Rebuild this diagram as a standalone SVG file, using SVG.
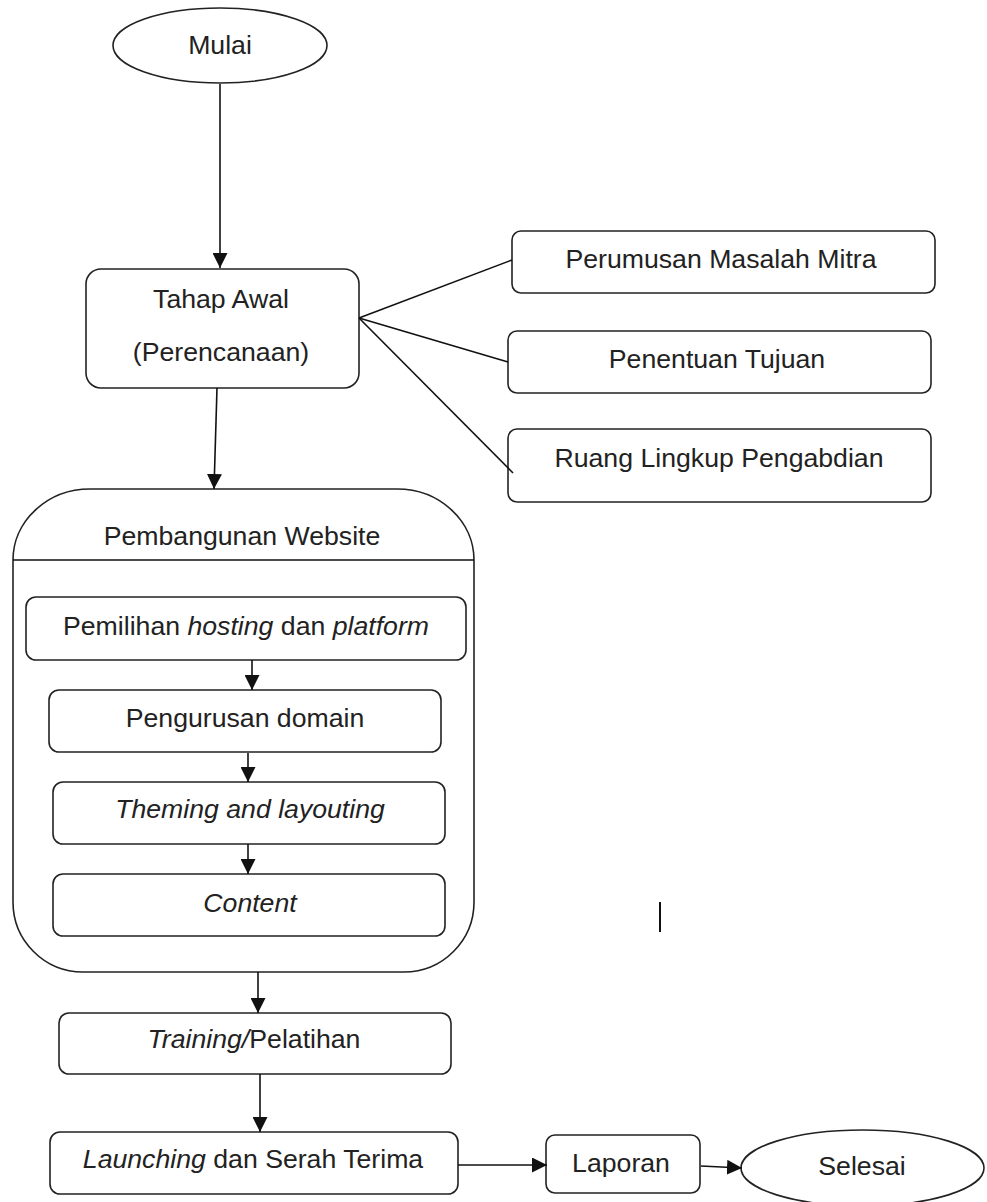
<svg xmlns="http://www.w3.org/2000/svg" width="987" height="1202" viewBox="0 0 987 1202">
<style>
.shape{fill:#fff;stroke:#222;stroke-width:1.6}
.conn{fill:none;stroke:#111;stroke-width:1.6}
.arrow{marker-end:url(#ah)}
text{font-family:"Liberation Sans",Arial,sans-serif;font-size:26.67px;fill:#222;text-anchor:middle}
.it{font-style:italic}
</style>
<defs>
<marker id="ah" markerUnits="userSpaceOnUse" markerWidth="15" markerHeight="15" refX="15" refY="7.5" orient="auto">
<path d="M0,0 L15,7.5 L0,15 z" fill="#111"/>
</marker>
</defs>
<rect width="987" height="1202" fill="#fff"/>
<g id="mulai">
<ellipse class="shape" cx="220" cy="45.5" rx="107" ry="37.5"/>
<text x="220" y="54">Mulai</text>
</g>
<g id="tahap-awal">
<rect class="shape" x="86" y="269" width="273" height="119" rx="15"/>
<text x="221" y="308">Tahap Awal</text>
<text x="221" y="361">(Perencanaan)</text>
</g>
<g id="perumusan">
<rect class="shape" x="512" y="231" width="423" height="62" rx="9"/>
<text x="721" y="268">Perumusan Masalah Mitra</text>
</g>
<g id="penentuan">
<rect class="shape" x="508" y="331" width="423" height="62" rx="9"/>
<text x="717" y="368">Penentuan Tujuan</text>
</g>
<g id="ruang-lingkup">
<rect class="shape" x="508" y="429" width="423" height="73" rx="9"/>
<text x="719" y="467">Ruang Lingkup Pengabdian</text>
</g>
<g id="pembangunan">
<path class="shape" d="M13,560 A77,71 0 0 1 90,489 L397,489 A77,71 0 0 1 474,560 L474,902 A70,70 0 0 1 404,972 L83,972 A70,70 0 0 1 13,902 Z"/>
<line class="conn" x1="13" y1="560" x2="474" y2="560"/>
<text x="242" y="545">Pembangunan Website</text>
</g>
<g id="pemilihan">
<rect class="shape" x="26" y="597" width="440" height="63" rx="10"/>
<text x="246" y="635">Pemilihan <tspan class="it">hosting</tspan> dan <tspan class="it">platform</tspan></text>
</g>
<g id="pengurusan">
<rect class="shape" x="49" y="690" width="392" height="62" rx="10"/>
<text x="245" y="727">Pengurusan domain</text>
</g>
<g id="theming">
<rect class="shape" x="53" y="782" width="392" height="62" rx="10"/>
<text x="250" y="818" class="it">Theming and layouting</text>
</g>
<g id="content">
<rect class="shape" x="53" y="874" width="392" height="62" rx="10"/>
<text x="250" y="912" class="it">Content</text>
</g>
<g id="training">
<rect class="shape" x="59" y="1013" width="392" height="61" rx="10"/>
<text x="254" y="1048"><tspan class="it">Training/</tspan>Pelatihan</text>
</g>
<g id="launching">
<rect class="shape" x="50" y="1132" width="408" height="62" rx="10"/>
<text x="253" y="1168"><tspan class="it">Launching</tspan> dan Serah Terima</text>
</g>
<g id="laporan">
<rect class="shape" x="546" y="1135" width="154" height="58" rx="9"/>
<text x="621" y="1172">Laporan</text>
</g>
<g id="selesai">
<ellipse class="shape" cx="862.5" cy="1168" rx="121.5" ry="38"/>
<text x="862" y="1175">Selesai</text>
</g>
<line x1="660" y1="902" x2="660" y2="932" stroke="#111" stroke-width="2"/>
<g id="connectors">
<line class="conn arrow" x1="220" y1="84" x2="220" y2="268"/>
<line class="conn" x1="359" y1="318" x2="512" y2="260"/>
<line class="conn" x1="359" y1="318" x2="508" y2="362"/>
<line class="conn" x1="359" y1="318" x2="513" y2="473"/>
<line class="conn arrow" x1="217" y1="388" x2="214" y2="489"/>
<line class="conn arrow" x1="252" y1="660" x2="252" y2="690"/>
<line class="conn arrow" x1="248" y1="753" x2="248" y2="782"/>
<line class="conn arrow" x1="248" y1="844" x2="248" y2="874"/>
<line class="conn arrow" x1="258" y1="972" x2="258" y2="1013"/>
<line class="conn arrow" x1="260" y1="1074" x2="260" y2="1132"/>
<line class="conn arrow" x1="458" y1="1165" x2="547" y2="1165"/>
<line class="conn arrow" x1="701" y1="1166" x2="742" y2="1168"/>
</g>
</svg>
